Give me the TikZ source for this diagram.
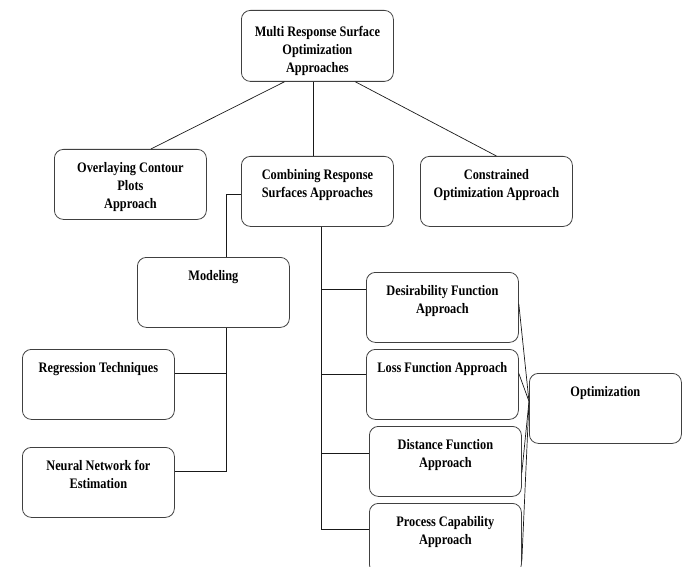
\documentclass[tikz,border=0pt]{standalone}
\usepackage{fontspec}
\setmainfont{Liberation Serif}[FakeStretch=0.85]
\tikzset{
  box/.style={draw=black!75, line width=0.8pt, rounded corners=9pt, anchor=north west,
    minimum width=152pt, inner xsep=2pt, inner ysep=4pt, text height=19pt, text depth=43pt,
    align=center, font=\fontsize{14.5}{18}\selectfont\bfseries},
  twolines/.style={text height=37pt, text depth=25pt},
  threelines/.style={text height=55pt, text depth=7pt},
  link/.style={black!90, line width=0.7pt}
}
\begin{document}
\begin{tikzpicture}[x=1pt, y=-1pt]
\clip (0,0) rectangle (688,567);
\node[box, text height=58pt, text depth=5pt] (multi) at (241,10) {Multi Response Surface\\Optimization\\Approaches};
\node[box, threelines] (overlay) at (54,149) {Overlaying Contour\\Plots\\Approach};
\node[box, twolines] (combine) at (241,156) {Combining Response\\Surfaces Approaches};
\node[box, twolines] (constr) at (420,156) {Constrained\\Optimization Approach};
\node[box] (model) at (137,257) {Modeling};
\node[box] (regress) at (22,349) {Regression Techniques};
\node[box, twolines] (neural) at (22,447) {Neural Network for\\Estimation};
\node[box, twolines] (desir) at (366,272) {Desirability Function\\Approach};
\node[box] (loss) at (366,349) {Loss Function Approach};
\node[box, twolines] (dist) at (369,426) {Distance Function\\Approach};
\node[box, twolines] (capab) at (369,503) {Process Capability\\Approach};
\node[box] (optim) at (529,373) {Optimization};
% top level
\draw [link] ([xshift=-33pt]multi.south) -- ([xshift=20.5pt]overlay.north);
\draw [link] ([xshift=-4pt]multi.south) -- ([xshift=-4pt]combine.north);
\draw [link] ([xshift=38pt]multi.south) -- (constr.north);
% modeling side
\draw [link] ([yshift=-3pt]combine.west) -| ([xshift=13pt]model.north);
\draw [link] ([xshift=13pt]model.south) |- ([yshift=10.7pt]neural.east);
\draw [link] ([yshift=10.7pt]regress.east) -| ([xshift=13pt]model.south);
% approaches side
\draw [link] ([xshift=3.5pt]combine.south) |- ([yshift=8.7pt]capab.west);
\draw [link] ([xshift=3.5pt]combine.south) |- ([yshift=18pt]desir.west);
\draw [link] ([xshift=3.5pt]combine.south) |- ([yshift=10pt]loss.west);
\draw [link] ([xshift=3.5pt]combine.south) |- ([yshift=8pt]dist.west);
% optimization
\draw [link] ([yshift=7pt]optim.west) -- ([yshift=3.5pt]desir.east);
\draw [link] ([yshift=7pt]optim.west) -- ([yshift=11pt]loss.east);
\draw [link] ([yshift=7pt]optim.west) -- ([yshift=-11.5pt]dist.east);
\draw [link] ([yshift=7pt]optim.west) -- ([yshift=-23pt]capab.east);
\end{tikzpicture}
\end{document}
